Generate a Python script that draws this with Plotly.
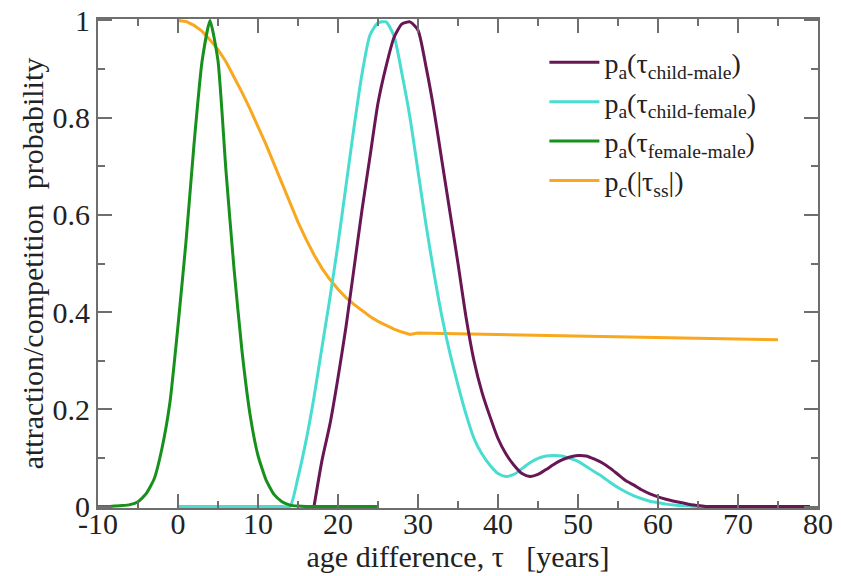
import plotly.graph_objects as go

# ---- data ----
# p_a(tau_female-male)  (green)
fm_x = list(range(-10, 26))
fm_y = [0.0, 0.0, 0.001, 0.002, 0.004, 0.01, 0.026, 0.056, 0.12, 0.215,
        0.372, 0.545, 0.745, 0.915, 1.0, 0.917, 0.69, 0.49, 0.32, 0.19,
        0.105, 0.055, 0.025, 0.01, 0.003, 0.001, 0.0, 0.0, 0.0, 0.0,
        0.0, 0.0, 0.0, 0.0, 0.0, 0.0]

# p_a(tau_child-female)  (turquoise)
cf_x = list(range(0, 77))
cf_y = [0.0] * 15 + [
    0.06, 0.135, 0.225, 0.328, 0.43, 0.54, 0.66, 0.78, 0.89, 0.97,
    0.995, 0.997, 0.968, 0.89, 0.80, 0.69, 0.58, 0.48, 0.39, 0.315,
    0.25, 0.19, 0.14, 0.108, 0.085, 0.068, 0.062, 0.066, 0.078, 0.09,
    0.099, 0.104, 0.105, 0.104, 0.099, 0.093, 0.083, 0.072, 0.062, 0.05,
    0.039, 0.03, 0.022, 0.016, 0.011, 0.008, 0.005, 0.003, 0.002, 0.001,
    0.0, 0.0, 0.0, 0.0, 0.0, 0.0, 0.0, 0.0, 0.0, 0.0, 0.0, 0.0]

# p_a(tau_child-male)  (maroon)
cm_x = list(range(17, 80))
cm_y = [0.0, 0.095, 0.17, 0.265, 0.37, 0.49, 0.61, 0.72, 0.83, 0.905,
        0.965, 0.993, 0.997, 0.98, 0.905, 0.815, 0.71, 0.605, 0.5, 0.39,
        0.3, 0.235, 0.185, 0.14, 0.108, 0.085, 0.068, 0.062, 0.066, 0.076,
        0.087, 0.096, 0.102, 0.105, 0.104, 0.098, 0.09, 0.079, 0.066, 0.053,
        0.044, 0.034, 0.026, 0.02, 0.015, 0.011, 0.008, 0.004, 0.002, 0.0,
        0.0, 0.0, 0.0, 0.0, 0.0, 0.0, 0.0, 0.0, 0.0, 0.0, 0.0, 0.0, 0.0]

# p_c(|tau_ss|)  (orange)
pc_x = list(range(0, 31)) + [40, 50, 60, 70, 75]
pc_y = [1.0, 0.998, 0.99, 0.978, 0.96, 0.94, 0.915, 0.885, 0.852, 0.818,
        0.782, 0.745, 0.705, 0.665, 0.625, 0.585, 0.55, 0.518, 0.49, 0.467,
        0.447, 0.43, 0.416, 0.403, 0.391, 0.381, 0.373, 0.365, 0.359, 0.354,
        0.357, 0.354, 0.351, 0.348, 0.345, 0.343]

x_ticks = [-10, 0, 10, 20, 30, 40, 50, 60, 70, 80]
x_tick_text = ["-10", "0", "10", "20", "30", "40", "50", "60", "70", "80"]
y_ticks = [0, 0.2, 0.4, 0.6, 0.8, 1]
y_tick_text = ["0", "0.2", "0.4", "0.6", "0.8", "1"]

FONT = "Liberation Serif"
AX = "#6e6e6e"
TXT = "#222222"

fig = go.Figure()
fig.add_trace(go.Scatter(x=pc_x, y=pc_y, mode="lines", legendrank=4,
                         line=dict(color="#F8A71E", width=3),
                         name="p<sub>c</sub>(|τ<sub>ss</sub>|)"))
fig.add_trace(go.Scatter(x=cf_x, y=cf_y, mode="lines", legendrank=2,
                         line=dict(color="#48DDD0", width=3, shape="spline", smoothing=0.6),
                         name="p<sub>a</sub>(τ<sub>child-female</sub>)"))
fig.add_trace(go.Scatter(x=cm_x, y=cm_y, mode="lines", legendrank=1,
                         line=dict(color="#681654", width=3, shape="spline", smoothing=0.6),
                         name="p<sub>a</sub>(τ<sub>child-male</sub>)"))
fig.add_trace(go.Scatter(x=fm_x, y=fm_y, mode="lines", legendrank=3,
                         line=dict(color="#17901C", width=3, shape="spline", smoothing=0.5),
                         name="p<sub>a</sub>(τ<sub>female-male</sub>)"))

fig.update_layout(
    width=841, height=576,
    margin=dict(l=98, r=23, t=19, b=68),
    paper_bgcolor="white", plot_bgcolor="white",
    font=dict(family=FONT, size=30, color=TXT),
    showlegend=True,
    legend=dict(x=0.62, y=0.962, xanchor="left", yanchor="top",
                bgcolor="rgba(0,0,0,0)", borderwidth=0,
                font=dict(family=FONT, size=28, color=TXT),
                itemwidth=50, tracegroupgap=0),
    xaxis=dict(range=[-10, 80], showgrid=False, zeroline=False, automargin=False,
               showline=True, linecolor=AX, linewidth=2, mirror="ticks",
               ticks="inside", ticklen=14, tickwidth=1.5, tickcolor=AX,
               tickvals=x_ticks, ticktext=x_tick_text, ticklabelstandoff=-12,
               tickfont=dict(family=FONT, size=30, color=TXT),
               minor=dict(ticks="inside", ticklen=7, dtick=5, tickwidth=1.5,
                          tickcolor=AX, showgrid=False),
               title=dict(text="age difference, τ   [years]", standoff=2,
                          font=dict(family=FONT, size=30, color=TXT))),
    yaxis=dict(range=[-0.003, 1.003], showgrid=False, zeroline=False, automargin=False,
               showline=True, linecolor=AX, linewidth=2, mirror="ticks",
               ticks="inside", ticklen=14, tickwidth=1.5, tickcolor=AX,
               tickvals=y_ticks, ticktext=y_tick_text,
               tickfont=dict(family=FONT, size=30, color=TXT),
               minor=dict(ticks="inside", ticklen=7, dtick=0.1, tickwidth=1.5,
                          tickcolor=AX, showgrid=False),
               title=dict(text="attraction/competition  probability", standoff=0,
                          font=dict(family=FONT, size=30, color=TXT))),
)

fig.write_html("out.html")
